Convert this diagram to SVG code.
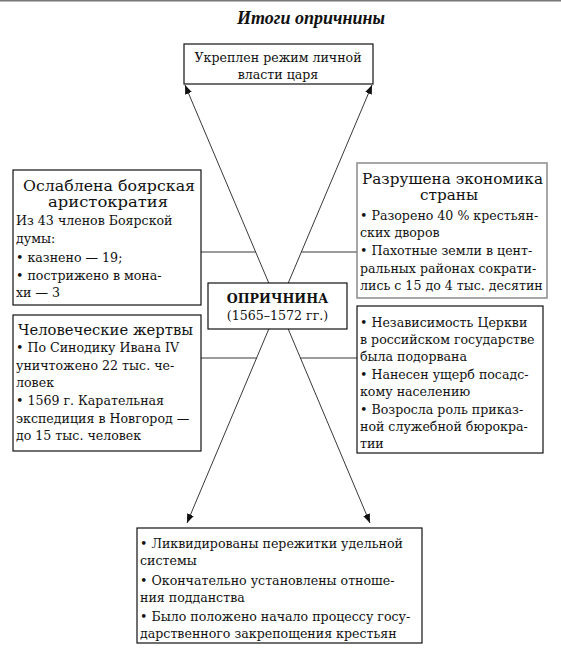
<svg xmlns="http://www.w3.org/2000/svg" width="561" height="656" viewBox="0 0 561 656">
<style>
text{font-family:"DejaVu Serif","Liberation Serif",serif;font-size:12.6px;fill:#111}
.h{font-size:15px}
.c{text-anchor:middle}
.box{fill:#fff;stroke:#111;stroke-width:1.2}
.gbox{fill:#fff;stroke:#8a8a8a;stroke-width:1.5}
.ln{stroke:#222;stroke-width:0.9;fill:none}
</style>
<defs>
<marker id="ah" viewBox="0 0 10 10" refX="10" refY="5" markerWidth="9" markerHeight="9" markerUnits="userSpaceOnUse" orient="auto">
<path d="M0,1 L10,5 L0,9 Z" fill="#111"/>
</marker>
</defs>
<rect width="561" height="656" fill="#fff"/>
<line x1="0" y1="0.8" x2="561" y2="0.8" stroke="#777" stroke-width="1.6"/>
<text x="311" y="24" class="c" style="font-family:'Liberation Serif',serif;font-size:18px;font-weight:bold;font-style:italic">Итоги опричнины</text>
<g id="connectors">
<line class="ln" x1="278.5" y1="306" x2="185" y2="85" marker-end="url(#ah)"/>
<line class="ln" x1="278.5" y1="306" x2="372" y2="85" marker-end="url(#ah)"/>
<line class="ln" x1="278.5" y1="306" x2="187" y2="523" marker-end="url(#ah)"/>
<line class="ln" x1="278.5" y1="306" x2="370" y2="523" marker-end="url(#ah)"/>
<line class="ln" x1="201" y1="252" x2="255.5" y2="252"/>
<line class="ln" x1="301.5" y1="252" x2="357" y2="252"/>
<line class="ln" x1="201" y1="358" x2="256.7" y2="358"/>
<line class="ln" x1="300.3" y1="358" x2="357" y2="358"/>
</g>
<g id="top">
<rect class="box" x="184" y="44" width="189" height="40"/>
<text x="278" y="62" class="c">Укреплен режим личной</text>
<text x="278" y="79" class="c">власти царя</text>
</g>
<g id="center">
<rect class="box" x="208" y="283" width="139" height="46"/>
<text x="277.5" y="303" class="c" style="font-weight:bold">ОПРИЧНИНА</text>
<text x="277.5" y="320" class="c">(1565–1572 гг.)</text>
</g>
<g id="boyars">
<rect class="box" x="13" y="170" width="188" height="135"/>
<text x="23" y="191" class="h" textLength="172" lengthAdjust="spacingAndGlyphs">Ослаблена боярская</text>
<text x="48" y="207" class="h" textLength="120" lengthAdjust="spacingAndGlyphs">аристократия</text>
<text x="16" y="225">Из 43 членов Боярской</text>
<text x="16" y="243">думы:</text>
<text x="16" y="262">•  казнено — 19;</text>
<text x="16" y="280">•  пострижено в мона-</text>
<text x="16" y="297">хи — 3</text>
</g>
<g id="economy">
<rect class="gbox" x="357" y="163" width="190" height="135"/>
<text x="362" y="184" class="h" textLength="181" lengthAdjust="spacingAndGlyphs">Разрушена экономика</text>
<text x="420" y="200" class="h" textLength="58" lengthAdjust="spacingAndGlyphs">страны</text>
<text x="360" y="220">•  Разорено 40 % крестьян-</text>
<text x="360" y="237">ских дворов</text>
<text x="360" y="255">•  Пахотные земли в цент-</text>
<text x="360" y="273">ральных районах сократи-</text>
<text x="360" y="290">лись с 15 до 4 тыс. десятин</text>
</g>
<g id="victims">
<rect class="box" x="13" y="315" width="188" height="136"/>
<text x="18" y="335" class="h" textLength="175" lengthAdjust="spacingAndGlyphs">Человеческие жертвы</text>
<text x="16" y="352">•  По Синодику Ивана IV</text>
<text x="16" y="370">уничтожено 22 тыс. че-</text>
<text x="16" y="387">ловек</text>
<text x="16" y="405">•  1569 г. Карательная</text>
<text x="16" y="423">экспедиция в Новгород —</text>
<text x="16" y="440">до 15 тыс. человек</text>
</g>
<g id="church">
<rect class="box" x="357" y="306" width="186" height="147"/>
<text x="360" y="327">•  Независимость Церкви</text>
<text x="360" y="344">в российском государстве</text>
<text x="360" y="361">была подорвана</text>
<text x="360" y="379">•  Нанесен ущерб посадс-</text>
<text x="360" y="396">кому населению</text>
<text x="360" y="414">•  Возросла роль приказ-</text>
<text x="360" y="431">ной служебной бюрокра-</text>
<text x="360" y="448">тии</text>
</g>
<g id="bottom">
<rect class="box" x="137" y="528" width="285" height="115"/>
<text x="140" y="548">•  Ликвидированы пережитки удельной</text>
<text x="140" y="565">системы</text>
<text x="140" y="585">•  Окончательно установлены отноше-</text>
<text x="140" y="602">ния подданства</text>
<text x="140" y="621">•  Было положено начало процессу госу-</text>
<text x="140" y="638">дарственного закрепощения крестьян</text>
</g>
</svg>
